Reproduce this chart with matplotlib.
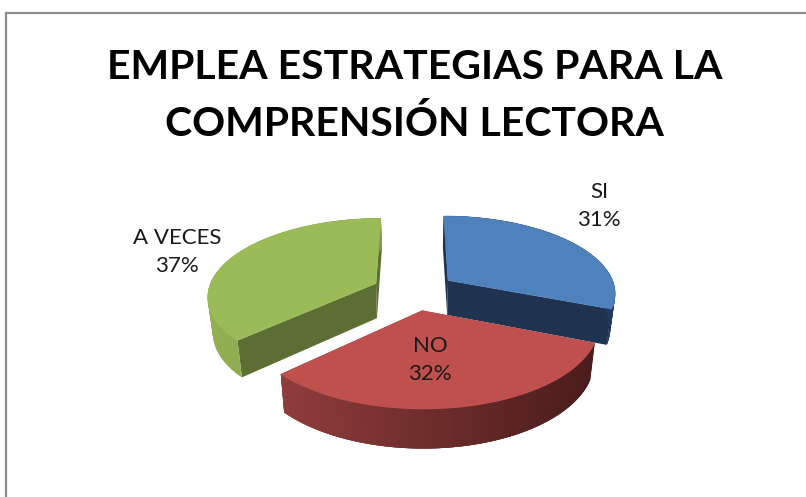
import numpy as np
import matplotlib
matplotlib.use("Agg")
import matplotlib.pyplot as plt
from matplotlib.colors import to_rgb
from matplotlib.patches import Rectangle

# ===== Chart data =====
TITLE = "EMPLEA ESTRATEGIAS PARA LA\nCOMPRENSIÓN LECTORA"
categories = ["SI", "NO", "A VECES"]
percent_values = [31, 32, 37]
top_colors = ["#4F81BD", "#C0504D", "#9BBB59"]
radial_wall_colors = ["#1F3350", "#4A1C1B", "#5C6E33"]
# outer wall shading, left end to right end as seen on screen
outer_wall_colors = [("#1F3350", "#223A5C"), ("#8F3D3B", "#4A1C1B"), ("#93B052", "#7D9A48")]
label_pixels = [(599, 206), (430, 360), (177, 252)]

# ===== Projection settings (in output pixels) =====
CENTER_X, CENTER_Y = 414.0, 291.0
RADIUS_X, RADIUS_Y = 168.0, 77.0
PERSPECTIVE = 0.15
EXPLODE = 0.25
WALL_HEIGHT = 35.0
BOTTOM_SHRINK = 0.975


def project(u, v):
    """Ground plane (u, v) to pixel position of the top face."""
    scale = 1.0 / (1.0 + PERSPECTIVE * v)
    return CENTER_X + RADIUS_X * u * scale, CENTER_Y - RADIUS_Y * v * scale


def drop(u, v):
    """Same ground point on the bottom face."""
    x, y = project(u, v)
    scale = 1.0 / (1.0 + PERSPECTIVE * v)
    return CENTER_X + (x - CENTER_X) * BOTTOM_SHRINK, y + WALL_HEIGHT * scale ** 0.6


def fill_quad(ax, xs, ys, color, zorder):
    ax.fill(xs, ys, facecolor=color, edgecolor="none", linewidth=0, zorder=zorder)


def draw_slice(ax, start_deg, end_deg, index, zorder):
    """Draw one exploded slice, going clockwise from start_deg to end_deg."""
    mid = np.radians((start_deg + end_deg) / 2)
    off_u, off_v = EXPLODE * np.cos(mid), EXPLODE * np.sin(mid)
    angles = np.radians(np.linspace(start_deg, end_deg, 120))
    rim_u = off_u + np.cos(angles)
    rim_v = off_v + np.sin(angles)

    # radial walls
    for k in (0, -1):
        x0, y0 = project(off_u, off_v)
        x1, y1 = project(rim_u[k], rim_v[k])
        x2, y2 = drop(rim_u[k], rim_v[k])
        x3, y3 = drop(off_u, off_v)
        fill_quad(ax, [x0, x1, x2, x3], [y0, y1, y2, y3], radial_wall_colors[index], zorder)

    # outer wall with horizontal shading, each quad overlaps the next to hide seams
    top_x, top_y = project(rim_u, rim_v)
    bot_x, bot_y = drop(rim_u, rim_v)
    left_color, right_color = (np.array(to_rgb(c)) for c in outer_wall_colors[index])
    span = max(top_x.max() - top_x.min(), 1.0)
    for i in range(len(angles) - 1):
        j = min(i + 3, len(angles) - 1)
        frac = (top_x[i] - top_x.min()) / span
        color = left_color + (right_color - left_color) * frac
        fill_quad(ax, [top_x[i], top_x[j], bot_x[j], bot_x[i]],
                  [top_y[i], top_y[j], bot_y[j], bot_y[i]], color, zorder + 0.1 + i * 0.001)

    # top face
    apex_x, apex_y = project(off_u, off_v)
    ax.fill(np.r_[apex_x, top_x], np.r_[apex_y, top_y], facecolor=top_colors[index],
            edgecolor=top_colors[index], linewidth=0.4, zorder=zorder + 0.5)


def main():
    plt.rcParams["font.family"] = ["Lato", "DejaVu Sans"]
    fig = plt.figure(figsize=(8.06, 4.97), dpi=100)
    ax = fig.add_axes([0, 0, 1, 1])
    ax.set_xlim(0, 806)
    ax.set_ylim(497, 0)
    ax.axis("off")

    # chart frame, cut by the image at right and bottom
    ax.add_patch(Rectangle((5.5, 13), 820, 500, facecolor="white", edgecolor="#8C8C8C", linewidth=1.6))

    sweep = 360.0 * np.array(percent_values) / np.sum(percent_values)
    ends = 90.0 - np.cumsum(sweep)
    starts = np.r_[90.0, ends[:-1]]

    # painter order: the front slice last
    for index, z in zip((0, 2, 1), (3, 4, 5)):
        draw_slice(ax, starts[index], ends[index], index, z)

    ax.text(414.5, 96, TITLE, ha="center", va="center", fontsize=29.5, fontweight="bold",
            color="black", linespacing=1.59, zorder=10)

    for name, value, (x, y) in zip(categories, percent_values, label_pixels):
        ax.text(x, y, f"{name}\n{value}%", ha="center", va="center", fontsize=16,
                color="#1A1A1A", linespacing=1.55, zorder=10)

    fig.savefig("out.png", dpi=100)


if __name__ == "__main__":
    main()
